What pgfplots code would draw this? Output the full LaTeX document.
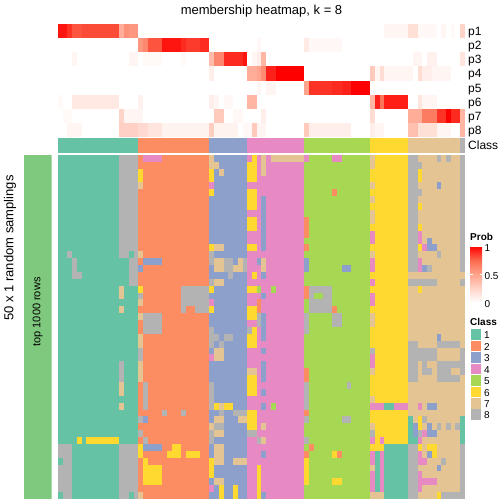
\documentclass[border=0pt]{standalone}
\usepackage{pgfplots}
\pgfplotsset{compat=1.18}
\usepackage{pgfplotstable}
\usepackage{fontspec}
\setmainfont{Liberation Sans}
\usetikzlibrary{calc}
\definecolor{c1}{RGB}{102,194,165}
\definecolor{c2}{RGB}{252,141,98}
\definecolor{c3}{RGB}{141,160,203}
\definecolor{c4}{RGB}{231,138,195}
\definecolor{c5}{RGB}{166,216,84}
\definecolor{c6}{RGB}{255,217,47}
\definecolor{c7}{RGB}{229,196,148}
\definecolor{c8}{RGB}{179,179,179}
\definecolor{annog}{RGB}{127,201,127}
\pgfdeclareplotmark{cellB}{\pgfpathrectangle{\pgfpoint{-2.42pt}{-3.49pt}}{\pgfpoint{4.84pt}{6.98pt}}\pgfusepathqfill}
\pgfdeclareplotmark{cellT}{\pgfpathrectangle{\pgfpoint{-2.42pt}{-7.14pt}}{\pgfpoint{4.84pt}{14.28pt}}\pgfusepathqfill}
\pgfdeclareplotmark{cellC}{\pgfpathrectangle{\pgfpoint{-2.42pt}{-7.15pt}}{\pgfpoint{4.84pt}{14.3pt}}\pgfusepathqfill}

\pgfplotstableread[header=false]{
1 1 1 1 1 1 1 1 1 1 1 1 1 8 8 8 8  2 4 4 4 4 2 2 2 2 2 2 2 2 2 2  7 3 3 3 3 3 3 3  4 6 4 7 4 7 7 7 7 7 7 7  4 5 5 5 5 5 4 4 5 5 5 5 5 5  7 6 6 6 6 6 6 6  8 8 7 7 7 7 8 7 8 7 7  8
1 1 1 1 1 1 1 1 1 1 1 1 1 8 8 8 8  2 2 2 2 2 2 2 2 2 2 2 2 2 2 2  7 7 3 3 3 3 3 3  6 6 4 7 4 4 4 4 4 4 4 4  5 5 5 5 5 5 5 5 5 5 5 5 5 5  7 6 6 6 6 6 6 6  8 8 8 7 7 7 7 7 7 7 7  8
1 1 1 1 1 1 1 1 1 1 1 1 1 8 8 8 8  6 2 2 2 2 2 2 2 2 2 2 2 2 2 2  6 3 7 3 3 3 3 3  6 6 4 7 4 4 4 4 4 4 4 4  5 5 5 5 5 5 5 5 5 5 5 5 5 5  6 6 6 6 6 6 6 6  8 8 6 7 7 7 7 7 7 7 7  8
1 1 1 1 1 1 1 1 1 1 1 1 1 8 8 8 8  6 2 2 2 2 2 2 2 2 2 2 2 2 2 2  6 3 3 3 3 3 3 3  6 6 4 4 4 4 4 4 4 4 4 4  5 5 5 5 5 5 5 5 5 5 5 5 5 5  6 6 6 6 6 6 6 6  8 8 6 7 7 7 7 7 7 7 7  8
1 1 1 1 1 1 1 1 1 1 1 1 1 8 8 8 8  7 2 2 2 2 2 2 2 2 2 2 2 2 2 2  4 3 3 3 3 3 3 3  4 4 4 4 4 4 4 4 4 4 4 4  5 5 5 5 5 5 5 5 5 5 5 5 5 5  7 6 6 6 6 6 6 6  8 8 7 7 7 7 3 7 7 7 7  8
1 1 1 1 1 1 1 1 1 1 1 1 1 8 8 8 8  2 2 2 2 2 2 2 2 2 2 2 2 2 2 2  6 3 3 3 3 3 3 3  6 6 4 4 4 4 4 4 4 4 4 4  5 5 5 5 5 5 2 5 5 5 5 5 5 5  6 6 6 6 6 6 6 6  8 8 8 7 7 7 7 7 7 7 7  8
1 1 1 1 1 1 1 1 1 1 1 1 1 8 8 8 8  2 2 2 2 2 2 2 2 2 2 2 2 2 2 2  3 3 3 3 3 3 3 3  6 6 4 3 4 4 4 4 4 4 4 4  5 5 5 5 5 5 5 5 5 5 5 5 5 5  7 6 6 6 6 6 6 6  8 8 7 7 7 7 7 7 7 7 7  8
1 1 1 1 1 1 1 1 1 1 1 1 1 8 8 8 8  2 2 2 2 2 2 2 2 2 2 2 2 2 2 2  3 3 3 3 3 3 3 3  6 6 4 3 4 4 4 4 4 4 4 4  5 5 5 5 5 5 5 5 5 5 5 5 5 5  6 6 6 6 6 6 6 6  8 8 6 7 7 7 7 7 7 7 7  8
1 1 1 1 1 1 1 1 1 1 1 1 1 8 8 8 8  2 2 2 2 2 2 2 2 2 2 2 2 2 2 2  3 3 3 3 3 3 3 3  4 4 4 3 4 4 4 4 4 4 4 4  5 5 5 5 5 5 5 5 5 5 5 5 5 5  7 6 6 6 6 6 6 6  8 8 7 7 7 7 7 7 7 7 7  8
1 1 1 1 1 1 1 1 1 1 1 1 1 8 8 8 8  2 2 2 2 2 2 2 2 2 2 2 2 2 2 2  3 3 3 3 3 3 3 3  6 6 4 3 4 4 4 4 4 4 4 4  2 5 5 5 5 5 5 5 5 5 5 5 5 5  7 6 6 6 6 6 6 6  8 8 7 7 7 7 7 7 7 7 7  8
1 1 1 1 1 1 1 1 1 1 1 1 1 8 8 8 8  2 2 2 2 2 2 2 2 2 2 2 2 2 2 2  3 3 3 3 3 3 3 3  6 6 4 3 4 4 4 4 4 4 4 4  2 5 5 5 5 5 5 5 5 5 5 5 5 5  6 6 6 6 6 6 6 6  8 8 6 7 7 7 7 7 7 7 7  8
1 1 1 1 1 1 1 1 1 1 1 1 1 8 8 8 8  2 2 2 2 2 2 2 2 2 2 2 2 2 2 2  3 3 3 3 3 3 3 3  4 4 4 3 4 4 4 4 4 4 4 4  2 5 5 5 5 5 5 5 5 5 5 5 5 5  4 6 6 6 6 6 6 6  8 8 4 7 7 7 7 7 7 7 7  8
1 1 1 1 1 1 1 1 1 1 1 1 1 8 8 8 8  2 2 2 2 2 2 2 2 2 2 2 2 2 2 2  3 3 3 3 3 3 3 3  4 4 4 3 4 4 4 4 4 4 4 4  5 5 5 5 5 5 5 5 5 5 5 5 5 5  4 6 6 6 6 6 6 6  8 8 4 7 3 7 7 7 7 7 7  8
1 1 1 1 1 1 1 1 1 1 1 1 1 8 8 8 8  2 2 2 2 2 2 2 2 2 2 2 2 2 2 2  6 7 7 3 3 3 3 3  6 6 4 3 4 4 4 4 4 4 4 4  2 5 5 5 5 5 5 5 5 5 5 5 5 5  6 6 6 6 6 6 6 6  8 8 6 4 3 3 7 7 7 7 7  8
1 1 8 1 1 1 1 1 1 1 1 1 1 8 8 1 8  7 2 2 2 2 2 2 2 2 2 2 2 2 2 2  8 3 3 3 3 3 3 3  4 4 4 4 4 4 4 4 4 4 4 4  5 5 5 5 5 5 5 5 5 5 5 5 5 5  7 6 6 6 6 6 6 6  8 8 7 7 7 7 8 7 7 7 7  8
1 1 1 8 1 1 1 1 1 1 1 1 1 1 1 8 8  2 3 3 3 3 2 2 2 2 2 2 2 2 2 2  8 7 7 8 8 3 7 8  4 4 3 7 4 4 4 4 4 4 4 4  3 5 5 5 5 5 5 5 5 5 5 5 5 5  4 6 6 6 6 6 6 6  8 8 4 7 7 7 7 7 7 7 7  8
1 1 1 8 1 1 1 1 1 1 1 1 1 1 1 8 8  3 2 2 2 2 2 2 2 2 2 2 2 2 2 2  3 7 7 8 8 7 7 8  4 4 4 7 4 4 4 4 4 4 4 4  3 5 5 5 5 5 5 5 3 3 5 5 5 5  4 6 6 6 6 6 6 6  8 8 4 3 8 7 7 7 7 7 7  8
1 1 1 8 8 1 1 1 1 1 1 1 1 1 1 8 8  2 2 2 2 2 2 2 2 2 2 2 2 2 2 2  3 3 3 3 8 3 3 3  4 6 4 3 4 4 4 4 4 4 4 4  5 5 5 5 5 5 5 5 5 5 5 5 5 5  6 6 6 6 6 6 6 6  7 7 7 7 7 7 7 7 7 7 7  7
1 1 1 1 1 1 1 1 1 1 1 1 1 1 1 8 8  2 2 2 2 2 2 2 2 2 2 2 2 2 2 2  8 7 7 3 3 3 3 3  4 4 4 4 4 4 4 4 4 4 4 4  5 5 5 5 5 5 5 5 5 5 5 5 5 5  4 6 6 6 6 6 6 6  8 8 8 8 8 8 7 7 7 7 7  8
1 1 1 1 1 1 1 1 1 1 1 1 1 7 1 1 1  6 2 2 2 2 2 2 2 2 8 8 8 8 8 8  6 3 3 3 3 3 3 3  6 6 5 4 4 5 4 4 4 4 4 4  2 8 8 8 8 8 5 5 5 5 5 5 5 5  6 6 6 6 6 6 6 6  7 7 6 7 7 7 7 7 7 7 7  7
1 1 1 1 1 1 1 1 1 1 1 1 1 7 1 1 1  8 2 2 2 2 2 2 2 2 8 8 8 8 8 8  3 3 3 3 3 3 3 3  4 4 4 3 4 4 4 4 4 4 4 4  2 8 5 5 8 8 5 5 5 5 5 5 5 5  4 6 6 6 6 6 6 6  7 7 7 7 7 7 7 7 7 7 7  7
1 1 1 1 1 1 1 1 1 1 1 1 1 1 1 1 1  7 2 2 2 2 2 2 2 2 8 8 8 8 8 8  4 3 3 3 3 3 3 3  4 4 2 4 4 4 4 4 4 4 4 4  5 8 8 8 8 8 5 5 5 5 5 5 5 5  4 6 6 6 6 6 6 6  7 7 7 7 7 7 7 7 7 7 7  7
1 1 1 1 1 1 1 1 1 1 1 1 1 7 1 1 1  2 2 2 2 2 2 2 2 2 8 2 2 8 8 8  6 3 3 3 3 3 3 3  6 6 2 4 4 4 4 4 4 4 4 4  5 8 8 8 8 8 2 5 5 5 5 5 5 5  6 6 6 6 6 6 6 6  7 7 7 7 7 7 7 7 7 7 7  7
1 1 1 1 1 1 1 1 1 1 1 1 1 1 1 1 1  7 8 8 8 8 2 2 2 2 2 2 2 2 2 2  3 3 3 3 3 3 3 3  6 6 8 3 4 4 4 4 4 4 4 4  8 5 5 5 5 5 8 8 5 5 5 5 5 5  7 6 6 6 6 6 6 6  7 7 7 7 7 7 7 7 7 7 7  7
1 1 1 1 1 1 1 1 1 1 1 1 1 1 1 1 1  2 8 8 8 8 2 2 2 2 2 2 2 2 2 2  3 3 3 3 3 3 3 3  4 4 8 3 4 4 4 4 4 4 4 4  8 5 5 5 5 5 8 8 5 5 5 5 5 5  7 6 6 6 6 6 6 6  7 7 7 7 7 7 7 7 7 7 7  7
1 1 1 1 1 1 1 1 1 1 1 1 1 1 1 1 1  2 8 8 8 8 2 2 2 2 2 2 2 2 2 2  8 3 3 3 3 3 3 3  8 6 4 3 4 4 4 4 4 4 4 4  8 5 5 5 5 5 5 5 5 5 5 5 5 5  6 6 6 6 6 6 6 6  7 7 7 7 7 7 7 7 7 7 7  7
1 1 1 1 1 1 1 1 1 1 1 1 1 1 1 1 1  7 2 2 2 2 2 2 2 2 2 2 2 2 2 2  8 8 3 8 8 3 3 3  6 6 4 3 4 4 4 4 4 4 4 4  5 5 5 5 5 5 5 5 5 5 5 5 5 5  6 6 6 6 6 6 6 6  7 7 7 7 7 7 3 7 7 7 7  7
1 1 1 1 1 1 1 1 1 1 1 1 1 1 1 1 1  7 2 2 2 2 2 2 2 2 2 2 2 2 2 2  8 3 8 3 3 3 3 3  6 6 4 4 4 4 4 4 4 4 4 4  5 5 5 5 5 5 5 5 5 5 5 5 5 5  6 6 6 6 6 6 6 6  8 8 7 7 7 7 8 8 8 8 8  7
1 1 1 1 1 1 1 1 1 1 1 1 1 1 1 1 1  8 2 2 2 2 2 2 2 2 2 2 2 2 2 2  3 7 7 3 3 3 3 3  4 4 4 3 4 4 4 4 4 4 4 4  5 5 5 5 5 5 5 5 5 5 5 5 5 5  8 6 6 6 6 6 6 6  8 8 8 8 8 8 7 7 7 7 7  8
1 1 1 1 1 1 1 1 1 1 1 1 1 1 1 1 1  8 2 2 2 2 2 2 2 2 2 2 2 2 2 2  4 7 7 3 3 3 3 3  4 4 4 4 4 4 4 4 4 4 4 4  5 5 5 5 5 5 5 5 5 5 5 5 5 5  4 6 6 6 6 6 6 6  8 8 8 8 8 8 7 7 7 7 7  8
1 1 1 1 1 1 1 1 1 1 1 1 1 8 1 1 1  7 2 2 2 2 2 2 2 2 2 2 2 2 2 2  3 3 3 3 3 3 3 3  4 4 4 3 4 4 4 4 4 4 4 4  5 5 5 5 5 5 5 5 5 5 5 5 5 5  4 6 6 6 6 6 6 6  8 8 7 8 7 7 8 8 8 8 8  8
1 1 1 1 1 1 1 1 1 1 1 1 1 8 1 1 1  7 2 2 2 2 2 2 2 2 2 2 2 2 2 2  3 3 3 3 3 3 3 3  7 7 4 3 4 4 4 4 4 4 4 4  2 5 5 5 5 5 5 5 5 5 5 5 5 5  7 6 6 6 6 6 6 6  8 8 7 8 8 7 8 8 8 7 7  8
1 1 1 1 1 1 1 1 1 1 1 1 1 8 1 1 1  7 2 2 2 2 2 2 2 2 2 2 2 2 2 2  3 3 3 3 3 3 3 3  6 6 4 3 4 4 4 4 4 4 4 4  2 5 5 5 5 5 5 5 5 5 5 5 5 5  6 6 6 6 6 6 6 6  8 8 7 7 7 7 8 8 8 8 8  7
1 1 1 1 1 1 1 1 1 1 1 1 1 7 1 1 1  2 8 2 2 2 2 2 2 2 2 2 2 2 2 2  8 3 3 3 3 3 3 3  6 6 4 4 4 4 4 4 4 4 4 4  8 5 5 5 5 5 5 5 5 8 5 5 5 5  6 6 6 6 6 6 6 6  7 7 7 7 7 7 7 7 7 7 7  7
1 1 1 1 1 1 1 1 1 1 1 1 1 7 1 1 1  2 8 2 2 2 2 2 2 2 2 2 2 2 2 2  8 3 3 3 3 3 3 3  6 6 4 3 4 4 4 4 4 4 4 4  8 5 5 5 5 5 5 5 5 5 5 5 5 5  6 6 6 6 6 6 6 6  7 7 7 7 7 7 7 7 7 7 7  7
1 1 1 1 1 1 1 1 1 1 1 1 1 1 1 1 1  2 8 2 2 2 2 2 2 2 2 2 2 2 2 2  8 3 3 3 3 3 3 3  4 4 4 4 4 4 4 4 4 4 4 4  8 5 5 5 5 5 5 5 5 5 5 5 5 5  7 6 6 6 6 6 6 6  7 7 7 7 7 7 7 7 7 7 7  7
1 1 1 1 1 1 1 1 1 1 1 1 1 7 1 1 1  2 8 2 2 2 2 2 2 2 2 2 2 2 2 2  8 6 7 6 6 3 3 3  4 4 4 3 4 5 4 4 4 4 4 4  8 5 5 5 5 5 5 5 5 5 5 5 5 5  4 4 4 1 1 4 4 4  7 7 4 7 3 3 7 7 7 7 7  7
1 1 1 1 1 1 1 1 1 1 1 1 1 1 1 1 1  2 2 2 2 2 8 2 2 2 8 2 2 2 2 2  3 3 8 3 3 8 8 8  6 6 4 4 4 4 4 4 4 4 4 4  2 5 5 5 5 5 5 5 5 5 5 5 5 5  6 6 6 6 6 6 6 6  7 7 7 7 7 7 7 7 7 7 7  7
1 1 1 1 1 1 1 1 1 1 1 1 1 1 1 1 1  8 3 2 2 2 2 2 2 2 2 2 2 2 2 2  3 7 7 3 3 3 7 7  6 6 4 4 4 4 4 4 4 4 4 4  8 5 5 5 5 5 5 5 8 8 5 5 5 5  6 6 6 6 6 6 6 6  1 7 6 8 7 7 7 7 7 7 7  1
1 1 1 1 1 1 1 1 1 1 1 1 1 1 1 1 1  2 2 2 2 2 2 2 2 2 2 2 2 2 2 2  7 8 8 3 3 3 3 3  6 6 4 7 4 4 4 4 4 4 4 4  5 5 5 5 5 5 5 5 5 5 5 5 5 5  7 6 6 6 6 6 6 6  1 3 6 7 3 7 8 7 8 7 8  1
1 1 1 1 1 1 1 1 1 1 1 1 1 1 1 1 1  8 2 2 2 2 2 2 2 2 2 2 2 2 2 2  8 7 7 3 3 3 3 3  8 8 4 4 4 4 4 4 4 4 4 4  5 5 5 5 5 5 5 5 5 5 5 5 5 5  8 6 6 6 6 6 6 6  1 3 8 4 3 3 7 7 7 7 7  1
1 1 1 1 6 1 6 6 6 6 6 6 6 1 1 1 1  2 8 2 2 2 2 2 2 2 2 2 2 2 2 2  8 3 3 3 3 3 3 3  4 4 8 7 4 4 4 4 4 4 4 4  8 5 5 5 5 5 5 5 5 5 5 5 5 5  4 6 4 6 6 6 6 6  1 1 4 7 7 7 7 7 7 7 7  1
8 8 8 1 1 1 1 1 1 1 1 1 1 8 8 8 8  6 3 3 3 3 2 2 6 6 2 2 2 2 2 2  3 7 7 3 3 3 3 3  4 4 4 4 4 4 4 4 4 4 4 4  5 2 5 5 5 5 5 5 5 5 5 5 5 5  6 6 6 1 1 1 1 1  8 8 6 7 6 6 7 7 7 7 7  8
8 8 8 1 1 1 1 1 1 1 1 1 1 8 8 8 8  6 2 2 2 2 2 6 6 6 2 6 6 6 2 2  3 7 7 3 3 3 3 3  4 4 4 3 4 4 4 4 4 4 4 4  2 5 5 5 5 5 6 2 5 5 5 5 5 5  4 1 4 1 1 1 1 1  8 8 4 7 3 6 7 7 7 7 7  8
1 8 8 1 1 1 1 1 1 1 1 1 1 8 8 8 8  2 6 2 2 2 2 2 2 2 2 2 2 2 2 2  6 7 7 3 3 7 7 7  4 4 4 4 4 4 4 4 4 4 4 4  6 5 5 5 5 5 5 5 5 5 5 5 5 5  4 1 4 1 1 1 1 1  8 8 4 4 7 7 7 8 7 7 7  8
8 8 8 1 1 1 1 1 1 1 1 1 1 8 8 8 8  2 6 6 6 6 2 2 2 2 2 2 2 2 2 2  6 3 3 3 3 3 3 3  4 4 6 4 4 4 4 4 4 4 4 4  6 5 5 5 5 5 5 5 5 5 5 5 5 5  7 1 4 1 1 1 1 1  8 8 7 7 7 7 3 7 7 7 7  8
8 8 8 1 1 1 1 1 1 1 1 1 1 8 8 8 8  2 6 6 6 6 2 2 2 2 2 2 2 2 2 2  6 3 3 3 3 3 3 3  4 4 6 4 4 4 4 4 4 4 4 4  6 5 5 5 5 5 5 5 5 5 5 5 5 5  4 1 4 1 1 1 1 1  8 8 4 7 7 7 7 7 7 7 7  8
8 8 8 1 1 1 1 1 1 1 1 1 1 8 8 8 8  2 6 6 6 6 2 2 2 2 2 2 2 2 2 2  3 7 7 3 3 3 3 3  4 4 6 4 4 4 4 4 4 4 4 4  6 5 5 5 5 5 6 6 5 5 5 5 5 5  4 1 4 1 1 1 1 1  8 8 4 4 4 4 7 7 7 7 7  8
8 8 8 1 1 1 1 1 1 1 1 1 1 8 8 8 8  2 2 2 2 2 2 2 2 2 2 2 2 2 2 2  4 3 6 3 3 6 3 3  4 4 6 4 4 4 4 4 4 4 4 4  5 5 5 5 5 5 5 5 5 5 5 5 5 5  4 1 4 1 1 1 1 1  8 8 4 7 7 7 7 7 7 7 7  8
1 8 8 1 1 1 1 1 1 1 1 1 1 8 8 1 8  7 2 2 2 2 2 2 2 2 2 2 2 2 2 2  3 3 6 3 3 6 3 3  4 4 6 3 4 4 4 4 4 4 4 4  5 5 5 5 5 5 5 5 5 5 5 5 5 5  7 7 7 1 1 1 1 1  8 8 7 7 7 7 6 8 8 8 8  8
}\botdata

\pgfplotstableread[header=false]{
0.95 0.95 0.88 0.8 0.8 0.82 0.82 0.82 0.82 0.82 0.82 0.82 0.82 0.45 0.58 0.55 0.55  0 0 0 0 0 0 0 0 0 0 0 0 0 0 0  0 0 0 0 0 0 0 0  0 0 0 0 0 0 0 0 0 0 0 0  0 0 0 0 0 0 0 0 0 0 0 0 0 0  0 0 0 0.06 0.06 0.06 0.06 0.06  0.18 0.18 0.04 0.04 0.04 0.04 0 0.06 0 0.03 0  0.25
0 0 0 0 0 0 0 0 0 0 0 0 0 0 0 0 0  0.55 0.62 0.8 0.8 0.8 0.95 0.95 0.95 0.95 0.9 0.86 0.86 0.86 0.9 0.9  0 0 0 0 0 0 0 0  0 0 0.04 0 0 0 0 0 0 0 0 0  0.12 0.04 0.04 0.04 0.04 0.04 0.04 0.04 0 0 0 0 0 0  0 0 0 0 0 0 0 0  0 0 0 0 0 0 0 0 0 0 0  0
0 0 0 0.05 0 0 0 0 0 0 0 0 0 0 0 0.05 0.05  0 0.03 0.03 0.03 0.03 0 0 0 0 0.03 0 0 0 0 0  0.38 0.62 0.62 0.9 0.9 0.9 0.9 0.95  0 0.05 0.1 0.4 0 0 0 0 0 0 0 0  0 0 0 0 0 0 0 0 0 0 0 0 0 0  0 0 0 0 0 0 0 0  0 0.05 0.05 0 0.08 0.08 0 0 0 0 0  0.15
0 0 0 0 0 0 0 0 0 0 0 0 0 0 0 0 0  0 0 0 0 0 0 0 0 0 0 0 0 0 0 0  0.1 0 0 0 0 0 0 0  0.45 0.45 0.5 0.6 0.92 0.92 1 1 1 1 1 1  0 0 0 0 0 0 0 0 0 0 0 0 0 0  0.3 0.05 0.2 0.05 0.05 0.05 0.05 0.05  0.05 0 0.2 0.1 0.1 0.05 0.05 0.05 0.05 0 0  0
0 0 0 0 0 0 0 0 0 0 0 0 0 0 0 0 0  0 0 0 0 0 0 0 0 0 0 0 0 0 0 0  0 0 0 0 0 0 0 0  0 0 0.05 0 0.05 0.05 0 0 0 0 0 0  0.5 0.88 0.88 0.88 0.88 0.88 0.9 0.9 0.92 0.92 1 1 1 1  0 0 0 0 0 0 0 0  0 0 0 0 0 0 0 0 0 0 0  0
0.03 0 0 0.13 0.13 0.13 0.13 0.13 0.13 0.13 0.13 0.13 0.13 0 0 0 0  0.08 0 0 0 0 0 0 0 0 0 0 0 0 0 0  0.1 0.05 0 0.04 0.04 0 0 0  0.4 0.4 0 0 0 0 0 0 0 0 0 0  0 0 0 0 0 0 0 0 0 0 0 0 0 0  0.4 0.92 0.7 0.93 0.93 0.93 0.93 0.93  0 0 0.15 0.05 0.05 0.05 0 0 0 0 0  0
0 0.03 0.03 0 0 0 0 0 0 0 0 0 0 0.25 0.05 0.05 0.05  0.06 0 0 0 0 0 0 0 0 0 0 0 0 0 0  0 0.3 0.3 0 0 0.04 0.04 0  0 0 0 0.1 0 0 0 0 0 0 0 0  0 0 0 0 0 0 0 0 0 0 0 0 0 0  0.2 0 0 0 0 0 0 0  0.45 0.45 0.45 0.67 0.67 0.67 0.88 0.88 1 0.9 0.9  0.4
0 0 0.05 0.05 0.05 0 0 0 0 0 0 0 0 0.27 0.27 0.27 0.27  0.22 0.22 0.15 0.15 0.15 0.07 0.07 0.07 0.07 0.07 0.07 0.07 0.07 0.07 0.07  0.28 0.07 0.07 0.07 0.07 0.07 0 0.04  0.04 0.3 0.05 0.05 0 0 0 0 0 0 0 0  0.3 0.1 0.1 0.1 0.1 0.1 0.1 0.1 0.1 0.1 0 0 0 0  0.1 0.05 0.05 0 0 0 0 0  0.35 0.35 0.18 0.18 0.18 0.18 0.05 0.05 0.05 0 0  0.4
}\topdata

\pgfplotstableread[header=false]{
1 1 1 1 1 1 1 1 1 1 1 1 1 1 1 1 1  2 2 2 2 2 2 2 2 2 2 2 2 2 2 2  3 3 3 3 3 3 3 3  4 4 4 4 4 4 4 4 4 4 4 4  5 5 5 5 5 5 5 5 5 5 5 5 5 5  6 6 6 6 6 6 6 6  7 7 7 7 7 7 7 7 7 7 7  8
}\classdata

\pgfplotsset{
  hm/.style={scale only axis, anchor=north west, xmin=0.5, xmax=86.5, hide axis, clip=true},
  setclasses/.style={scatter/classes={1={fill=c1},2={fill=c2},3={fill=c3},4={fill=c4},5={fill=c5},6={fill=c6},7={fill=c7},8={fill=c8}}},
}

\begin{document}
\begin{tikzpicture}
\useasboundingbox (0pt,0pt) rectangle (504pt,-504pt);

% top probability heatmap
\begin{axis}[scale only axis, anchor=north west, at={(58pt,-24pt)}, width=407pt, height=113.4pt,
  xmin=0.5, xmax=86.5, ymin=0.5, ymax=8.5, y dir=reverse,
  axis line style={draw=none}, xtick=\empty, ytick=\empty,
  colormap={probmap}{rgb255=(255,255,255) rgb255=(255,212,200) rgb255=(255,163,140) rgb255=(250,105,78) rgb255=(255,0,0)},
  point meta min=0, point meta max=1,
  colorbar shift/.style={},
  colorbar,
  colorbar style={at={($(parent axis.north west)+(412pt,-222pt)$)}, anchor=north west,
    scale only axis, width=12pt, height=56.5pt,
    ytick={0,0.5,1}, yticklabels={0,0.5,1}, yticklabel pos=right,
    yticklabel style={font=\fontsize{10}{12}\selectfont, yshift=-2pt, xshift=-1pt},
    axis line style={draw=none}, tick style={draw=white, line width=0.8pt},
    tick align=inside, major tick length=2.5pt, ytick pos=both, xtick=\empty}]
\pgfplotsinvokeforeach{0,...,85}{
  \addplot[scatter, only marks, mark=cellT, point meta=explicit]
    table[x expr=#1+1, y expr=\coordindex+1, meta index=#1] {\topdata};
}
\end{axis}

% class row
\begin{axis}[hm, setclasses, at={(58pt,-138.4pt)}, width=407pt, height=14.2pt, ymin=0.5, ymax=1.5]
\pgfplotsinvokeforeach{0,...,85}{
  \addplot[scatter, only marks, mark=cellC, point meta=explicit symbolic]
    table[x expr=#1+1, y expr=1, meta index=#1] {\classdata};
}
\end{axis}

% bottom membership heatmap
\begin{axis}[hm, setclasses, at={(58pt,-155pt)}, width=407pt, height=344pt, ymin=0.5, ymax=50.5, y dir=reverse]
\pgfplotsinvokeforeach{0,...,85}{
  \addplot[scatter, only marks, mark=cellB, point meta=explicit symbolic]
    table[x expr=#1+1, y expr=\coordindex+1, meta index=#1] {\botdata};
}
\end{axis}

% left annotation bar
\begin{axis}[scale only axis, anchor=north west, at={(24pt,-155pt)}, width=27.7pt, height=344pt,
  xmin=0, xmax=1, ymin=0, ymax=1, hide axis]
\addplot[fill=annog, draw=none] coordinates {(0,1) (1,1)} \closedcycle;
\end{axis}

% texts
\node[anchor=base, font=\fontsize{13}{15}\selectfont] at (261.5pt,-14pt) {membership heatmap, k = 8};
\foreach \yy/\lab in {35.4/p1, 49.6/p2, 63.7/p3, 77.9/p4, 92.1/p5, 106.3/p6, 120.4/p7, 134.6/p8, 149.8/Class}
  \node[anchor=base west, inner sep=0pt, font=\fontsize{12}{14}\selectfont] at (468pt,-\yy pt) {\lab};
\node[rotate=90, font=\fontsize{13}{15}\selectfont] at (10pt,-248pt) {50 x 1 random samplings};
\node[rotate=90, font=\fontsize{11}{13}\selectfont] at (37.8pt,-312pt) {top 1000 rows};

% legends
\node[anchor=base west, inner sep=0pt, font=\bfseries\fontsize{10}{12}\selectfont] at (470pt,-240.7pt) {Prob};
\node[anchor=base west, inner sep=0pt, font=\bfseries\fontsize{10}{12}\selectfont] at (470pt,-325.5pt) {Class};
\foreach \i/\t in {1/329.3, 2/340.7, 3/352.2, 4/363.6, 5/375.0, 6/386.5, 7/397.9, 8/409.3} {
  \fill[c\i] (470.7pt,-\t pt) rectangle (480.7pt,{-(\t+10.6)*1pt});
  \node[anchor=base west, inner sep=0pt, font=\fontsize{10}{12}\selectfont] at (484pt,{-(\t+9.6)*1pt}) {\i};
}
\end{tikzpicture}
\end{document}
